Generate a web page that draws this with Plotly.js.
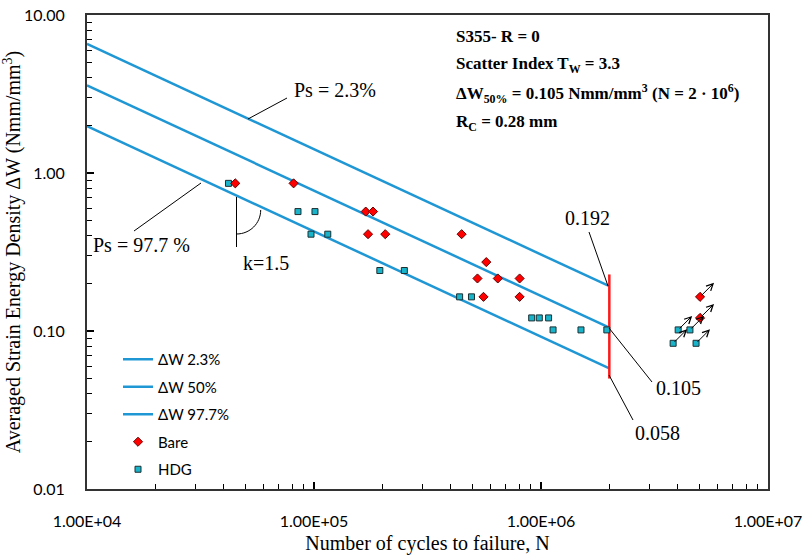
<!DOCTYPE html>
<html>
<head>
<meta charset="utf-8">
<script src="https://cdn.plot.ly/plotly-3.0.1.min.js"></script>
<style>html,body{margin:0;padding:0;background:#fff;}#chart{width:808px;height:555px;}</style>
</head>
<body>
<div id="chart"></div>
<script>
// ---- data ----
const lineN = [1e4, 2e6];
const ps23W = [6.57, 0.192];
const ps50W = [3.59, 0.105];
const ps977W = [1.98, 0.058];
const limitN = [2e6, 2e6];
const limitW = [0.05, 0.228];

const bareN = [4.5e4, 8.13e4, 1.69e5, 1.82e5, 1.73e5, 2.06e5, 4.47e5, 5.74e5, 5.25e5, 6.45e5, 8.05e5, 5.58e5, 8.05e5, 5.02e6, 5.02e6];
const bareW = [0.86, 0.86, 0.57, 0.57, 0.41, 0.41, 0.41, 0.273, 0.215, 0.215, 0.215, 0.1645, 0.1645, 0.1645, 0.121];
const hdgN = [4.2e4, 8.5e4, 1.01e5, 9.7e4, 1.15e5, 1.95e5, 2.5e5, 4.38e5, 4.94e5, 9.1e5, 9.83e5, 1.08e6, 1.13e6, 1.5e6, 1.95e6, 4.02e6, 4.53e6, 3.82e6, 4.82e6];
const hdgW = [0.86, 0.57, 0.57, 0.41, 0.41, 0.2415, 0.2415, 0.1645, 0.1645, 0.121, 0.121, 0.121, 0.1016, 0.1016, 0.1016, 0.1016, 0.1016, 0.0836, 0.0836];
// run-outs (arrows)
const runoutN = [5.02e6, 5.02e6, 4.02e6, 4.53e6, 3.82e6, 4.82e6];
const runoutW = [0.1645, 0.121, 0.1016, 0.1016, 0.0836, 0.0836];

const xTickVals = [1e4, 1e5, 1e6, 1e7];
const xTickText = ['1.00E+04', '1.00E+05', '1.00E+06', '1.00E+07'];
const yTickVals = [0.01, 0.1, 1, 10];
const yTickText = ['0.01', '0.10', '1.00', '10.00'];

// ---- layout helpers ----
const W = 808, H = 555;
const M = {l: 87, r: 40, t: 15, b: 66};
const PW = W - M.l - M.r, PH = H - M.t - M.b;
const px = x => (x - M.l) / PW;
const py = y => (H - M.b - y) / PH;

const blue = '#1f97d4';
const serif = 'Liberation Serif, Times New Roman, serif';
const sans = 'Lato, Carlito, Calibri, sans-serif';

const traces = [
  {x: lineN, y: ps23W, mode: 'lines', name: 'ΔW 2.3%', line: {color: blue, width: 2.5}, legendgroup: 'a', legendrank: 1},
  {x: lineN, y: ps50W, mode: 'lines', name: 'ΔW 50%', line: {color: blue, width: 2.5}, legendgroup: 'b', legendrank: 2},
  {x: lineN, y: ps977W, mode: 'lines', name: 'ΔW 97.7%', line: {color: blue, width: 2.5}, legendgroup: 'c', legendrank: 3},
  {x: limitN, y: limitW, mode: 'lines', showlegend: false, line: {color: '#ff1a1a', width: 2.5}},
  {x: hdgN, y: hdgW, mode: 'markers', name: 'HDG', legendgroup: 'e', legendrank: 5,
   marker: {symbol: 'square', size: 6, color: '#19b4c9', line: {color: '#1b2f33', width: 1}}},
  {x: bareN, y: bareW, mode: 'markers', name: 'Bare', legendgroup: 'd', legendrank: 4,
   marker: {symbol: 'diamond', size: 7, color: '#ff0000', line: {color: '#6a0000', width: 1}}}
];

const ann = [];
function txt(t, x, y, opts) {
  ann.push(Object.assign({text: t, xref: 'paper', yref: 'paper', x: px(x), y: py(y), showarrow: false,
    xanchor: 'center', yanchor: 'middle', font: {family: serif, size: 20, color: '#000'}}, opts || {}));
}
txt('Ps = 2.3%', 335, 90);
txt('Ps = 97.7 %', 141, 245);
txt('k=1.5', 266, 263);
txt('0.192', 587, 218);
txt('0.105', 678, 388);
txt('0.058', 657, 433);

const boxFont = {family: serif, size: 17, color: '#000'};
txt('<b>S355- R = 0</b>', 454, 36, {xanchor: 'left', font: boxFont});
txt('<b>Scatter Index T<sub>W</sub> = 3.3</b>', 454, 65, {xanchor: 'left', font: boxFont});
txt('<b>ΔW<sub>50%</sub> = 0.105 Nmm/mm<sup>3</sup> (N = 2 · 10<sup>6</sup>)</b>', 454, 94, {xanchor: 'left', font: boxFont});
txt('<b>R<sub>C</sub> = 0.28 mm</b>', 454, 123, {xanchor: 'left', font: boxFont});

// run-out arrows
for (let i = 0; i < runoutN.length; i++) {
  ann.push({x: Math.log10(runoutN[i]), y: Math.log10(runoutW[i]), xref: 'x', yref: 'y', text: '',
    showarrow: true, arrowhead: 5, arrowsize: 1.3, arrowwidth: 1, arrowcolor: '#000',
    ax: -14, ay: 14, xshift: 14, yshift: 14, standoff: 0});
}

const shapes = [];
function seg(x0, y0, x1, y1) {
  shapes.push({type: 'line', xref: 'paper', yref: 'paper', x0: px(x0), y0: py(y0), x1: px(x1), y1: py(y1),
    line: {color: '#000', width: 1}});
}
seg(248, 119, 287, 98);
seg(134, 231, 201, 183);
seg(236.5, 197, 236.5, 247);
seg(589, 232, 608, 286);
seg(609, 328, 652, 382);
seg(609, 375, 633, 420);
const arc = [[236.5, 234], [250, 234], [260.7, 223.3], [260.7, 210]].map(p => [px(p[0]), py(p[1])]);
shapes.push({type: 'path', xref: 'paper', yref: 'paper',
  path: `M${arc[0][0]},${arc[0][1]} C${arc[1][0]},${arc[1][1]} ${arc[2][0]},${arc[2][1]} ${arc[3][0]},${arc[3][1]}`,
  line: {color: '#000', width: 1}});

const layout = {
  width: W, height: H,
  margin: M,
  paper_bgcolor: '#fff', plot_bgcolor: '#fff',
  showlegend: true,
  legend: {x: px(118), y: py(343), xanchor: 'left', yanchor: 'top', bgcolor: 'rgba(0,0,0,0)',
    font: {family: sans, size: 15, color: '#000'}, traceorder: 'grouped', tracegroupgap: 5},
  xaxis: {
    type: 'log', range: [4, 7], tickmode: 'array', tickvals: xTickVals, ticktext: xTickText,
    ticks: 'inside', ticklen: 7, tickwidth: 1.5, tickcolor: '#000', ticklabelstandoff: 17,
    showline: true, linecolor: '#333', linewidth: 2, mirror: true, showgrid: false, zeroline: false,
    minor: {ticks: 'inside', ticklen: 5, tickwidth: 1, tickcolor: '#000', dtick: 'D1', showgrid: false},
    tickfont: {family: sans, size: 16, color: '#000'},
    title: {text: 'Number of cycles to failure, N', font: {family: serif, size: 20, color: '#000'}, standoff: 8}
  },
  yaxis: {
    type: 'log', range: [-2, 1], tickmode: 'array', tickvals: yTickVals, ticktext: yTickText,
    ticks: 'inside', ticklen: 7, tickwidth: 1.5, tickcolor: '#000', ticklabelstandoff: 17,
    showline: true, linecolor: '#333', linewidth: 2, mirror: true, showgrid: false, zeroline: false,
    minor: {ticks: 'inside', ticklen: 5, tickwidth: 1, tickcolor: '#000', dtick: 'D1', showgrid: false},
    tickfont: {family: sans, size: 16, color: '#000'},
    title: {text: 'Averaged Strain Energy Density ΔW (Nmm/mm<sup>3</sup>)', font: {family: serif, size: 20, color: '#000'}, standoff: 4}
  },
  annotations: ann,
  shapes: shapes
};

Plotly.newPlot('chart', traces, layout, {displayModeBar: false, staticPlot: true});
</script>
</body>
</html>
